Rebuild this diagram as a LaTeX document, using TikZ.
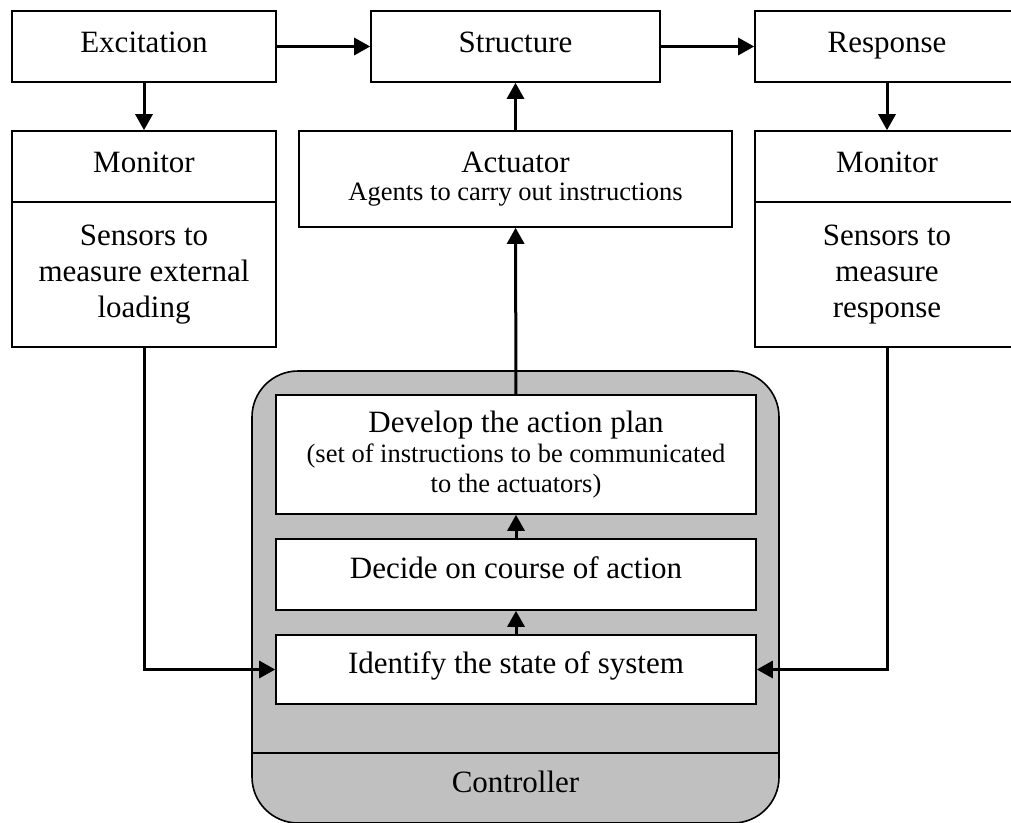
\documentclass[tikz,border=0pt]{standalone}
\usepackage{fontspec}
\setmainfont{Liberation Serif}
\usetikzlibrary{arrows.meta}
\newcommand\boxfont{\fontsize{31}{36}\selectfont}
\newcommand\notefont{\fontsize{26.5}{30}\selectfont}
\definecolor{ctrlgrey}{HTML}{C0C0C0}
\tikzset{ b/.style = { rectangle % plain box
        , draw
        , line width = 1.6pt
        , fill = white
        , align = center
        , font = \boxfont
        , inner sep = 0pt
        }
        , t/.style = { text height = 24pt % one line, top row
        , text depth = 13pt
        }
        , i/.style = { text height = 23pt % one line, inside controller
        , text depth = 16pt
        }
        , c/.style = { rectangle % controller frame
        , draw
        , line width = 1.6pt
        , fill = ctrlgrey
        , rounded corners = 46pt
        , inner sep = 0pt
        }
        }

\begin{document}
\begin{tikzpicture}[x=1pt, y=-1pt,
        edge_style/.style={draw=black, line width=3pt, -{Triangle[length=16pt,width=17pt]}},
        label_style/.style={draw=none, fill=none, font=\boxfont}]
        \useasboundingbox (0,0) rectangle (1011,822);

        \node [c, minimum width=527pt, minimum height=452pt](ctrl) at (515.5,597) {};
        \draw [line width=1.6pt] (ctrl.west |- 0,753) -- (ctrl.east |- 0,753);
        \node [label_style, anchor=base](ctrl_lbl) at (515.5,792) {Controller};

        \node [b, t, minimum width=264pt, minimum height=71pt](exc) at (144,46.5) {Excitation};
        \node [b, t, minimum width=289pt, minimum height=71pt](str) at (515.5,46.5) {Structure};
        \node [b, t, minimum width=264pt, minimum height=71pt](res) at (887,46.5) {Response};
        \node [b, t, minimum width=264pt, minimum height=71pt](mon1) at (144,166.5) {Monitor};
        \node [b, minimum width=264pt, minimum height=145pt](sen1) at (144,274.5) {Sensors to\\measure external\\loading};
        \node [b, t, minimum width=264pt, minimum height=71pt](mon2) at (887,166.5) {Monitor};
        \node [b, minimum width=264pt, minimum height=145pt](sen2) at (887,274.5) {Sensors to\\measure\\response};
        \node [b, font=\notefont, minimum width=433pt, minimum height=96pt](act) at (515.5,179) {{\boxfont Actuator}\\[-2pt]Agents to carry out instructions};
        \node [b, font=\notefont, minimum width=480pt, minimum height=119pt](dev) at (516,454.5) {{\boxfont Develop the action plan}\\(set of instructions to be communicated\\to the actuators)};
        \node [b, i, minimum width=480pt, minimum height=71pt](dec) at (516,574.5) {Decide on course of action};
        \node [b, i, minimum width=480pt, minimum height=69pt](idf) at (516,669.5) {Identify the state of system};

        \draw [edge_style] (exc) -- (str);
        \draw [edge_style] (str) -- (res);
        \draw [edge_style] (exc) -- (mon1);
        \draw [edge_style] (res) -- (mon2);
        \draw [edge_style] (act) -- (str);
        \draw [edge_style] (dev) -- (act);
        \draw [edge_style] (dec) -- (dev);
        \draw [edge_style] (idf) -- (dec);
        \draw [edge_style] (sen1.south) |- (idf.west);
        \draw [edge_style] (sen2.south) |- (idf.east);

\end{tikzpicture}
\end{document}
